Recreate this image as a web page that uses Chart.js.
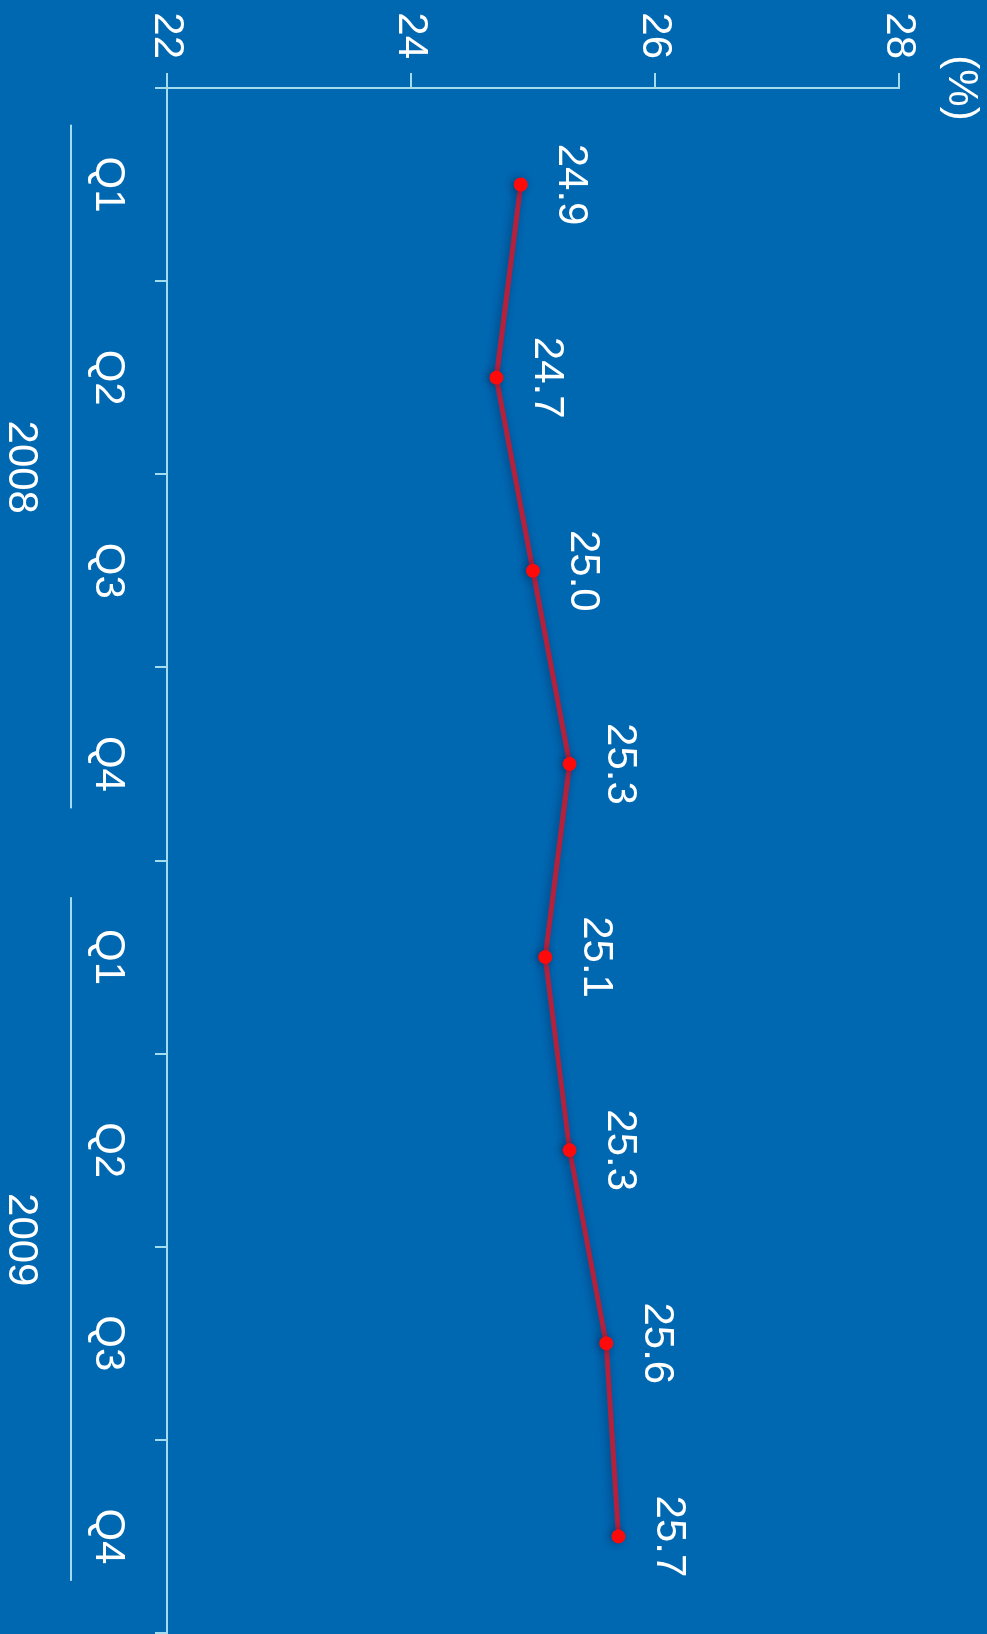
<!DOCTYPE html>
<html>
<head>
<meta charset="utf-8">
<script src="https://cdn.jsdelivr.net/npm/chart.js@4"></script>
<style>
    html, body { margin: 0; padding: 0; background: #0067b1; overflow: hidden; }
    #wrap { position: relative; width: 987px; height: 1634px; background: #0067b1; overflow: hidden; }
    #chartCanvas {
        position: absolute; left: 0; top: 0;
        transform-origin: 0 0;
        transform: translate(987px, 0) rotate(90deg);
    }
</style>
</head>
<body>
<div id="wrap">
    <canvas id="chartCanvas" width="1640" height="987"></canvas>
</div>
<script>
const quarters = ['Q1', 'Q2', 'Q3', 'Q4', 'Q1', 'Q2', 'Q3', 'Q4'];
const years = ['2008', '2009'];
const shareValues = [24.9, 24.7, 25.0, 25.3, 25.1, 25.3, 25.6, 25.7];
const yTicks = [22, 24, 26, 28];
const unitLabel = '(%)';

const axisColor = '#a3dcec';
const textColor = '#ffffff';
const fontFamily = '"Liberation Sans", Arial, Helvetica, sans-serif';

Chart.defaults.font.family = fontFamily;
Chart.defaults.font.size = 42;
Chart.defaults.color = textColor;

// soft shadow under the series line, like the original
const shadowPlugin = {
    id: 'lineShadow',
    beforeDatasetDraw(chart) {
        const c = chart.ctx;
        c.save();
        c.shadowColor = 'rgba(0, 20, 60, 0.45)';
        c.shadowBlur = 8;
        c.shadowOffsetY = 2;
    },
    afterDatasetDraw(chart) {
        chart.ctx.restore();
    }
};

const extrasPlugin = {
    id: 'extras',
    afterDatasetsDraw(chart) {
        const ctx = chart.ctx;
        const xs = chart.scales.x;
        const ys = chart.scales.y;
        const meta = chart.getDatasetMeta(0);
        ctx.save();
        ctx.fillStyle = textColor;
        ctx.font = '42px ' + fontFamily;
        ctx.textAlign = 'center';
        ctx.textBaseline = 'middle';

        // value labels above points
        meta.data.forEach((pt, i) => {
            ctx.fillText(shareValues[i].toFixed(1), pt.x, pt.y - 50);
        });

        // unit label at top of value axis
        ctx.fillText(unitLabel, chart.chartArea.left, ys.getPixelForValue(yTicks[yTicks.length - 1]) - 62);

        // year groups
        const step = xs.getPixelForValue(1) - xs.getPixelForValue(0);
        const perYear = quarters.length / years.length;
        years.forEach((yr, g) => {
            const a = xs.getPixelForValue(g * perYear);
            const b = xs.getPixelForValue(g * perYear + perYear - 1);
            const mid = (a + b) / 2;
            ctx.fillText(yr, mid - 7, chart.chartArea.bottom + 146);
            ctx.strokeStyle = axisColor;
            ctx.lineWidth = 2;
            ctx.beginPath();
            ctx.moveTo(a - step * 0.31, chart.chartArea.bottom + 96);
            ctx.lineTo(b + step * 0.23, chart.chartArea.bottom + 96);
            ctx.stroke();
        });
        ctx.restore();
    }
};

const ctx = document.getElementById('chartCanvas').getContext('2d');
new Chart(ctx, {
    type: 'line',
    data: {
        labels: quarters,
        datasets: [{
            label: 'Share',
            data: shareValues,
            borderColor: '#b3213d',
            borderWidth: 5,
            pointRadius: 7,
            pointBackgroundColor: '#ff0a0a',
            pointBorderWidth: 0,
            tension: 0
        }]
    },
    options: {
        responsive: false,
        devicePixelRatio: 1,
        animation: false,
        layout: { padding: { top: 88, right: 3, left: 0, bottom: 0 } },
        plugins: {
            legend: { display: false },
            tooltip: { enabled: false }
        },
        scales: {
            x: {
                type: 'category',
                offset: true,
                afterFit(scale) { scale.height = 167; },
                grid: {
                    offset: true,
                    drawOnChartArea: false,
                    color: axisColor,
                    lineWidth: 2,
                    tickLength: 12
                },
                border: { color: axisColor, width: 2 },
                ticks: { padding: 22, color: textColor, maxRotation: 0, autoSkip: false }
            },
            y: {
                min: yTicks[0],
                max: yTicks[yTicks.length - 1],
                afterFit(scale) { scale.width = 88; },
                afterBuildTicks(scale) { scale.ticks = yTicks.map(v => ({ value: v })); },
                grid: {
                    drawOnChartArea: false,
                    color: axisColor,
                    lineWidth: 2,
                    tickLength: 15
                },
                border: { color: axisColor, width: 2 },
                ticks: { padding: 14, color: textColor }
            }
        }
    },
    plugins: [shadowPlugin, extrasPlugin]
});
</script>
</body>
</html>
